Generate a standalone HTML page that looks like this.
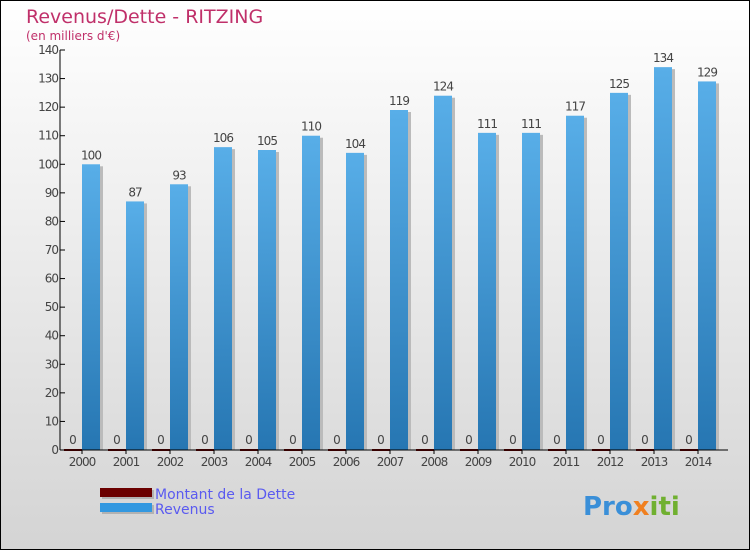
<!DOCTYPE html>
<html><head><meta charset="utf-8"><style>
body{margin:0;}
#c{width:750px;height:550px;position:relative;overflow:hidden;}
text{font-family:"DejaVu Sans","Liberation Sans",sans-serif;}
</style></head><body>
<div id="c">
<svg id="s" width="750" height="550" xmlns="http://www.w3.org/2000/svg">
<defs>
<linearGradient id="bg" x1="0" y1="0" x2="0" y2="1"><stop offset="0" stop-color="#ffffff"/><stop offset="1" stop-color="#d4d4d4"/></linearGradient>
<linearGradient id="rv" x1="0" y1="0" x2="0" y2="1"><stop offset="0" stop-color="#58aee8"/><stop offset="1" stop-color="#2676b2"/></linearGradient>
</defs>
<rect x="0.5" y="0.5" width="749" height="549" fill="url(#bg)" stroke="#000"/>
<text x="26" y="23" font-size="19" fill="#c0306a">Revenus/Dette - RITZING</text>
<text x="26" y="40" font-size="12" fill="#c0306a">(en milliers d'€)</text>
<g id="plot"></g>
<g>
<rect x="102" y="490" width="52" height="9" fill="#999" opacity="0.6"/>
<rect x="100" y="488" width="52" height="9" fill="#6b0000"/>
<rect x="102" y="505" width="52" height="9" fill="#999" opacity="0.6"/>
<rect x="100" y="503" width="52" height="9" fill="#3398e0"/>
<text x="155" y="499" font-size="14" fill="#5a5af0">Montant de la Dette</text>
<text x="155" y="514" font-size="14" fill="#5a5af0">Revenus</text>
</g>
<g>
<text x="583" y="515" font-size="26" font-weight="bold" fill="#3a8fd8">Pro<tspan fill="#f08020">x</tspan><tspan fill="#70b030">iti</tspan></text>
</g>
</svg>
</div>
<script>
const years=["2000","2001","2002","2003","2004","2005","2006","2007","2008","2009","2010","2011","2012","2013","2014"];
const revenus=[100,87,93,106,105,110,104,119,124,111,111,117,125,134,129];
const dette=[0,0,0,0,0,0,0,0,0,0,0,0,0,0,0];
const yTicks=[0,10,20,30,40,50,60,70,80,90,100,110,120,130,140];
const NS="http://www.w3.org/2000/svg";
const g=document.getElementById("plot");
const y0=450,yTop=50,yMax=140;
function Y(v){return y0-(v/yMax)*(y0-yTop);}
function X(i){return 82+44*i;}
function mk(t,a,p){const e=document.createElementNS(NS,t);for(const k in a)e.setAttribute(k,a[k]);(p||g).appendChild(e);return e;}
yTicks.forEach(v=>{
 const l=mk("line",{x1:60,x2:65,y1:Y(v),y2:Y(v),stroke:"#000"});
 
 
 const t=mk("text",{x:58,y:Y(v)+4,"font-size":12,fill:"#444","text-anchor":"end","letter-spacing":"-1"});
 t.textContent=v;
 
 
});
years.forEach((yr,i)=>{
 const cx=X(i);
 const d=mk("rect",{x:cx-18,y:Y(dette[i])-1,width:18,height:Math.max(1,y0-Y(dette[i]))+1,fill:"#6b0000"});
 
 
 const dl=mk("text",{x:cx-9,y:Y(dette[i])-6,"font-size":12,fill:"#444","text-anchor":"middle"});
 dl.textContent=dette[i];
 
 
 mk("rect",{x:cx+18,y:Y(revenus[i])+2,width:3,height:y0-Y(revenus[i])-2,fill:"#bbb"});
 const r=mk("rect",{x:cx,y:Y(revenus[i]),width:18,height:y0-Y(revenus[i]),fill:"url(#rv)"});
 
 
 const rl=mk("text",{x:cx+9,y:Y(revenus[i])-5,"font-size":12,fill:"#444","text-anchor":"middle","letter-spacing":"-1"});
 rl.textContent=revenus[i];
 
 
 const xl=mk("text",{x:cx,y:466,"font-size":12,fill:"#444","text-anchor":"middle","letter-spacing":"-1"});
 xl.textContent=yr;
 
 
 mk("line",{x1:cx,x2:cx,y1:y0,y2:y0+4,stroke:"#000"});
});
const ax=mk("line",{x1:60,x2:60,y1:yTop,y2:y0,stroke:"#000"});


const bx=mk("line",{x1:60,x2:728,y1:y0,y2:y0,stroke:"#000"});


</script>
</body></html>
